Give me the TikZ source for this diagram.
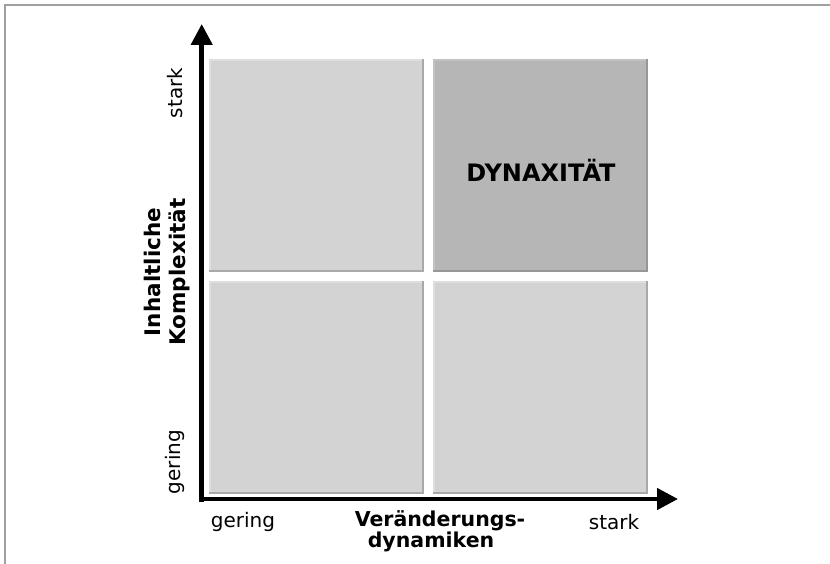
\documentclass[tikz,border=0pt]{standalone}
\usepackage{fontspec}
\setmainfont{DejaVu Sans}
\usetikzlibrary{arrows.meta}
\definecolor{framegray}{HTML}{A0A0A0}
\definecolor{cellfill}{HTML}{D3D3D3}
\definecolor{cellfilldark}{HTML}{B6B6B6}
\definecolor{celledge}{HTML}{A9A9A9}
\definecolor{celledgedark}{HTML}{979797}
\definecolor{celllight}{HTML}{DEDEDE}
\definecolor{celllightdark}{HTML}{C2C2C2}
\tikzset{
  axis/.style={line width=4.5pt, -{Triangle[length=21pt,width=21pt]}},
  lbl/.style={inner sep=0pt, font=\fontsize{20}{24}\selectfont},
  blbl/.style={inner sep=0pt, font=\fontsize{21.5}{25}\selectfont\bfseries, align=center},
}
\begin{document}
\begin{tikzpicture}[x=1pt,y=-1pt]
\useasboundingbox (0,0) rectangle (830,564);
% frame
\draw[framegray, line width=1.6pt] (5,564) -- (5,4.8) -- (830,4.8);
% cells
\foreach \nm/\xa/\ya/\fc/\ec/\lc in {tl/209/59/cellfill/celledge/celllight, tr/433/59/cellfilldark/celledgedark/celllightdark, bl/209/281/cellfill/celledge/celllight, br/433/281/cellfill/celledge/celllight}{
  \node[draw=none, fill=\fc, minimum width=215pt, minimum height=213pt, inner sep=0pt, anchor=north west] (\nm) at (\xa,\ya) {};
  \draw[\lc, line width=1.5pt] (\nm.south west) ++(0.75,0) -- ++(0,-212.25) -- ++(213.5,0);
  \draw[\ec, line width=2pt] (\nm.north east) ++(-1,0) -- ++(0,212) -- ++(-214,0);
}
% axes
\coordinate (origin) at (201.7,501.7);
\coordinate (ytip) at (201.7,24);
\coordinate (xstart) at (199.5,499);
\coordinate (xtip) at (678,499);
\draw[axis] (origin) -- (ytip);
\draw[axis] (xstart) -- (xtip);
% labels
\node[lbl, rotate=90] (ystark) at (175,93) {stark};
\node[lbl, rotate=90] (ygering) at (175,462) {gering};
\node[lbl] (xgering) at (243,522) {gering};
\node[lbl] (xstark) at (614,522) {stark};
\node[blbl, font=\fontsize{20.5}{24}\selectfont\bfseries] (xt1) at (440,521) {Veränderungs-};
\node[blbl, font=\fontsize{20.5}{24}\selectfont\bfseries] (xt2) at (431,542) {dynamiken};
\node[blbl, rotate=90] (ytitle) at (167,272) {Inhaltliche\\Komplexität};
\node[blbl, font=\fontsize{24}{28}\selectfont\bfseries] (dyn) at (541,170) {DYNAXITÄT};
\end{tikzpicture}
\end{document}
